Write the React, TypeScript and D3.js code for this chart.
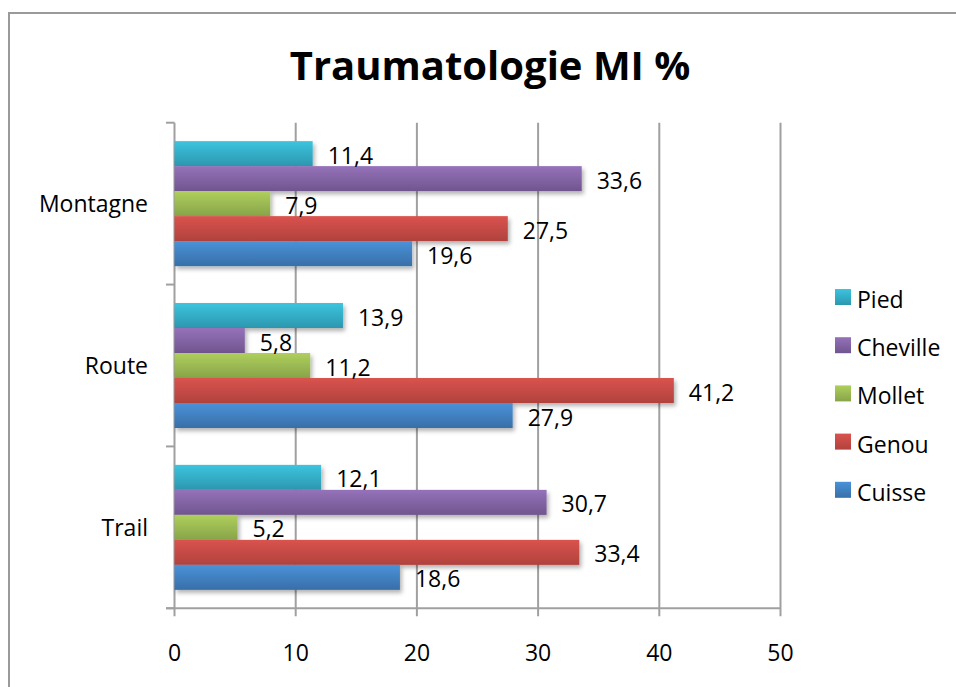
import React from "react";
import * as d3 from "d3";

const categories = ["Montagne", "Route", "Trail"];
const seriesNames = ["Pied", "Cheville", "Mollet", "Genou", "Cuisse"];
const pied = [11.4, 13.9, 12.1];
const cheville = [33.6, 5.8, 30.7];
const mollet = [7.9, 11.2, 5.2];
const genou = [27.5, 41.2, 33.4];
const cuisse = [19.6, 27.9, 18.6];
const xTicks = [0, 10, 20, 30, 40, 50];
const seriesValues = [pied, cheville, mollet, genou, cuisse];
const colorsTop = ["#3CC4DF", "#9572BA", "#AFCF5C", "#DA534E", "#4A92D8"];
const colorsBottom = ["#2C97AF", "#70558E", "#88A44A", "#B0423D", "#386FA8"];

const FONT = "'Open Sans', 'Liberation Sans', sans-serif";

export default function App() {
  const W = 956, H = 687;
  const x = d3.scaleLinear().domain([0, 50]).range([174.5, 780.5]);
  const y = d3.scaleBand<string>().domain(categories).range([122.7, 608.3]);
  const barH = 25;
  const groupH = barH * seriesNames.length;
  const offset = (y.bandwidth() - groupH) / 2;
  const inner = d3.scaleBand<string>().domain(seriesNames).range([offset, offset + groupH]);
  const gray = "#A0A0A0";
  const fmt = (v: number) => v.toFixed(1).replace(".", ",");
  const axisY = y.range()[1];
  const fs = 23;

  return (
    <svg
      width={W}
      height={H}
      style={{ position: "absolute", left: 0, top: 0, background: "#fff" }}
      fontFamily={FONT}
    >
      <defs>
        {seriesNames.map((s, i) => (
          <linearGradient key={s} id={`g${i}`} x1="0" y1="0" x2="0" y2="1">
            <stop offset="0%" stopColor={colorsTop[i]} />
            <stop offset="100%" stopColor={colorsBottom[i]} />
          </linearGradient>
        ))}
        <filter id="shadow" x="-10%" y="-30%" width="120%" height="180%">
          <feDropShadow dx="2" dy="3" stdDeviation="2" floodColor="#000" floodOpacity="0.3" />
        </filter>
      </defs>
      <rect x={9} y={13} width={1000} height={1000} fill="#fff" stroke="#9A9A9A" strokeWidth={2} />
      <text x={490} y={80} textAnchor="middle" fontSize={40} fontWeight="bold" fill="#000">
        Traumatologie MI %
      </text>
      {xTicks.map((t) => (
        <line key={t} x1={x(t)} x2={x(t)} y1={y.range()[0]} y2={axisY + 8} stroke={gray} strokeWidth={2} />
      ))}
      <line x1={166} x2={x(50)} y1={axisY} y2={axisY} stroke={gray} strokeWidth={2} />
      {[...categories.map((c) => y(c)!), axisY].map((v, i) => (
        <line key={i} x1={166} x2={x(0)} y1={v} y2={v} stroke={gray} strokeWidth={2} />
      ))}
      {xTicks.map((t) => (
        <text key={t} x={x(t)} y={661} textAnchor="middle" fontSize={fs} fill="#000">
          {t}
        </text>
      ))}
      {categories.map((c) => (
        <text key={c} x={148} y={y(c)! + y.bandwidth() / 2 + 8.5} textAnchor="end" fontSize={fs} fill="#000">
          {c}
        </text>
      ))}
      {categories.map((c, ci) =>
        seriesNames.map((s, si) => {
          const v = seriesValues[si][ci];
          const by = y(c)! + inner(s)!;
          return (
            <rect
              key={c + s}
              x={x(0)}
              y={by}
              width={x(v) - x(0)}
              height={inner.bandwidth()}
              fill={`url(#g${si})`}
              filter="url(#shadow)"
            />
          );
        })
      )}
      {categories.map((c, ci) =>
        seriesNames.map((s, si) => {
          const v = seriesValues[si][ci];
          const by = y(c)! + inner(s)!;
          return (
            <text key={"t" + c + s} x={x(v) + 15} y={by + inner.bandwidth() / 2 + 10} fontSize={fs} fill="#000">
              {fmt(v)}
            </text>
          );
        })
      )}
      {seriesNames.map((s, i) => (
        <g key={s} transform={`translate(835, ${289 + i * 48.2})`}>
          <rect x={0} y={0} width={16} height={16} fill={`url(#g${i})`} />
          <text x={22} y={19} fontSize={fs} fill="#000">
            {s}
          </text>
        </g>
      ))}
    </svg>
  );
}
